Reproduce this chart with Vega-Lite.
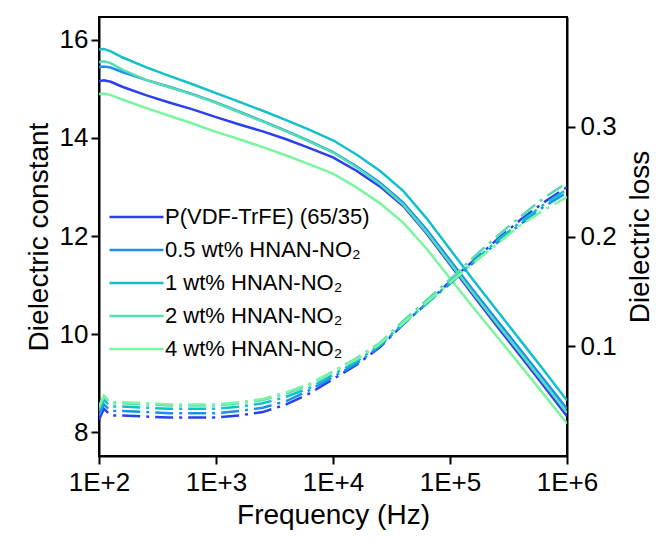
{
  "$schema": "https://vega.github.io/schema/vega-lite/v6.json",
  "width": 468,
  "height": 439,
  "autosize": {"type": "none"},
  "padding": {"left": 99, "top": 17, "right": 89, "bottom": 83},
  "background": "white",
  "config": {
    "font": "Liberation Sans",
    "view": {"stroke": "black", "strokeWidth": 2},
    "axis": {
      "grid": false,
      "domainColor": "black",
      "domainWidth": 2,
      "tickColor": "black",
      "tickWidth": 2,
      "tickSize": 8,
      "labelColor": "black",
      "labelFontSize": 26,
      "titleFontSize": 28,
      "titleFontWeight": "normal",
      "titleColor": "black",
      "labelFont": "Liberation Sans",
      "titleFont": "Liberation Sans"
    },
    "legend": {"labelFont": "Liberation Sans"}
  },
  "datasets": {
    "eps": [
      {"f": 100, "series": "P(VDF-TrFE) (65/35)", "eps": 15.15},
      {"f": 110, "series": "P(VDF-TrFE) (65/35)", "eps": 15.17},
      {"f": 126, "series": "P(VDF-TrFE) (65/35)", "eps": 15.14},
      {"f": 158, "series": "P(VDF-TrFE) (65/35)", "eps": 15.04},
      {"f": 251, "series": "P(VDF-TrFE) (65/35)", "eps": 14.87},
      {"f": 398, "series": "P(VDF-TrFE) (65/35)", "eps": 14.72},
      {"f": 631, "series": "P(VDF-TrFE) (65/35)", "eps": 14.58},
      {"f": 1000, "series": "P(VDF-TrFE) (65/35)", "eps": 14.42},
      {"f": 1585, "series": "P(VDF-TrFE) (65/35)", "eps": 14.27},
      {"f": 2512, "series": "P(VDF-TrFE) (65/35)", "eps": 14.13},
      {"f": 3981, "series": "P(VDF-TrFE) (65/35)", "eps": 13.97},
      {"f": 6310, "series": "P(VDF-TrFE) (65/35)", "eps": 13.79},
      {"f": 10000, "series": "P(VDF-TrFE) (65/35)", "eps": 13.60},
      {"f": 15849, "series": "P(VDF-TrFE) (65/35)", "eps": 13.33},
      {"f": 25119, "series": "P(VDF-TrFE) (65/35)", "eps": 13.01},
      {"f": 39811, "series": "P(VDF-TrFE) (65/35)", "eps": 12.61},
      {"f": 63096, "series": "P(VDF-TrFE) (65/35)", "eps": 12.05},
      {"f": 100000, "series": "P(VDF-TrFE) (65/35)", "eps": 11.42},
      {"f": 158489, "series": "P(VDF-TrFE) (65/35)", "eps": 10.79},
      {"f": 251189, "series": "P(VDF-TrFE) (65/35)", "eps": 10.17},
      {"f": 398107, "series": "P(VDF-TrFE) (65/35)", "eps": 9.56},
      {"f": 630957, "series": "P(VDF-TrFE) (65/35)", "eps": 8.95},
      {"f": 1000000, "series": "P(VDF-TrFE) (65/35)", "eps": 8.33},

      {"f": 100, "series": "0.5 wt% HNAN-NO₂", "eps": 15.44},
      {"f": 110, "series": "0.5 wt% HNAN-NO₂", "eps": 15.45},
      {"f": 126, "series": "0.5 wt% HNAN-NO₂", "eps": 15.43},
      {"f": 158, "series": "0.5 wt% HNAN-NO₂", "eps": 15.34},
      {"f": 251, "series": "0.5 wt% HNAN-NO₂", "eps": 15.18},
      {"f": 398, "series": "0.5 wt% HNAN-NO₂", "eps": 15.04},
      {"f": 631, "series": "0.5 wt% HNAN-NO₂", "eps": 14.89},
      {"f": 1000, "series": "0.5 wt% HNAN-NO₂", "eps": 14.72},
      {"f": 1585, "series": "0.5 wt% HNAN-NO₂", "eps": 14.53},
      {"f": 2512, "series": "0.5 wt% HNAN-NO₂", "eps": 14.34},
      {"f": 3981, "series": "0.5 wt% HNAN-NO₂", "eps": 14.14},
      {"f": 6310, "series": "0.5 wt% HNAN-NO₂", "eps": 13.93},
      {"f": 10000, "series": "0.5 wt% HNAN-NO₂", "eps": 13.71},
      {"f": 15849, "series": "0.5 wt% HNAN-NO₂", "eps": 13.42},
      {"f": 25119, "series": "0.5 wt% HNAN-NO₂", "eps": 13.09},
      {"f": 39811, "series": "0.5 wt% HNAN-NO₂", "eps": 12.68},
      {"f": 63096, "series": "0.5 wt% HNAN-NO₂", "eps": 12.13},
      {"f": 100000, "series": "0.5 wt% HNAN-NO₂", "eps": 11.51},
      {"f": 158489, "series": "0.5 wt% HNAN-NO₂", "eps": 10.89},
      {"f": 251189, "series": "0.5 wt% HNAN-NO₂", "eps": 10.29},
      {"f": 398107, "series": "0.5 wt% HNAN-NO₂", "eps": 9.69},
      {"f": 630957, "series": "0.5 wt% HNAN-NO₂", "eps": 9.09},
      {"f": 1000000, "series": "0.5 wt% HNAN-NO₂", "eps": 8.48},

      {"f": 100, "series": "1 wt% HNAN-NO₂", "eps": 15.80},
      {"f": 110, "series": "1 wt% HNAN-NO₂", "eps": 15.81},
      {"f": 126, "series": "1 wt% HNAN-NO₂", "eps": 15.76},
      {"f": 158, "series": "1 wt% HNAN-NO₂", "eps": 15.64},
      {"f": 251, "series": "1 wt% HNAN-NO₂", "eps": 15.44},
      {"f": 398, "series": "1 wt% HNAN-NO₂", "eps": 15.26},
      {"f": 631, "series": "1 wt% HNAN-NO₂", "eps": 15.09},
      {"f": 1000, "series": "1 wt% HNAN-NO₂", "eps": 14.91},
      {"f": 1585, "series": "1 wt% HNAN-NO₂", "eps": 14.73},
      {"f": 2512, "series": "1 wt% HNAN-NO₂", "eps": 14.55},
      {"f": 3981, "series": "1 wt% HNAN-NO₂", "eps": 14.36},
      {"f": 6310, "series": "1 wt% HNAN-NO₂", "eps": 14.16},
      {"f": 10000, "series": "1 wt% HNAN-NO₂", "eps": 13.95},
      {"f": 15849, "series": "1 wt% HNAN-NO₂", "eps": 13.66},
      {"f": 25119, "series": "1 wt% HNAN-NO₂", "eps": 13.33},
      {"f": 39811, "series": "1 wt% HNAN-NO₂", "eps": 12.92},
      {"f": 63096, "series": "1 wt% HNAN-NO₂", "eps": 12.36},
      {"f": 100000, "series": "1 wt% HNAN-NO₂", "eps": 11.73},
      {"f": 158489, "series": "1 wt% HNAN-NO₂", "eps": 11.10},
      {"f": 251189, "series": "1 wt% HNAN-NO₂", "eps": 10.49},
      {"f": 398107, "series": "1 wt% HNAN-NO₂", "eps": 9.88},
      {"f": 630957, "series": "1 wt% HNAN-NO₂", "eps": 9.27},
      {"f": 1000000, "series": "1 wt% HNAN-NO₂", "eps": 8.65},

      {"f": 100, "series": "2 wt% HNAN-NO₂", "eps": 15.54},
      {"f": 110, "series": "2 wt% HNAN-NO₂", "eps": 15.56},
      {"f": 126, "series": "2 wt% HNAN-NO₂", "eps": 15.52},
      {"f": 158, "series": "2 wt% HNAN-NO₂", "eps": 15.39},
      {"f": 251, "series": "2 wt% HNAN-NO₂", "eps": 15.18},
      {"f": 398, "series": "2 wt% HNAN-NO₂", "eps": 15.03},
      {"f": 631, "series": "2 wt% HNAN-NO₂", "eps": 14.88},
      {"f": 1000, "series": "2 wt% HNAN-NO₂", "eps": 14.71},
      {"f": 1585, "series": "2 wt% HNAN-NO₂", "eps": 14.52},
      {"f": 2512, "series": "2 wt% HNAN-NO₂", "eps": 14.33},
      {"f": 3981, "series": "2 wt% HNAN-NO₂", "eps": 14.13},
      {"f": 6310, "series": "2 wt% HNAN-NO₂", "eps": 13.92},
      {"f": 10000, "series": "2 wt% HNAN-NO₂", "eps": 13.70},
      {"f": 15849, "series": "2 wt% HNAN-NO₂", "eps": 13.40},
      {"f": 25119, "series": "2 wt% HNAN-NO₂", "eps": 13.06},
      {"f": 39811, "series": "2 wt% HNAN-NO₂", "eps": 12.64},
      {"f": 63096, "series": "2 wt% HNAN-NO₂", "eps": 12.08},
      {"f": 100000, "series": "2 wt% HNAN-NO₂", "eps": 11.45},
      {"f": 158489, "series": "2 wt% HNAN-NO₂", "eps": 10.83},
      {"f": 251189, "series": "2 wt% HNAN-NO₂", "eps": 10.22},
      {"f": 398107, "series": "2 wt% HNAN-NO₂", "eps": 9.62},
      {"f": 630957, "series": "2 wt% HNAN-NO₂", "eps": 9.01},
      {"f": 1000000, "series": "2 wt% HNAN-NO₂", "eps": 8.40},

      {"f": 100, "series": "4 wt% HNAN-NO₂", "eps": 14.89},
      {"f": 110, "series": "4 wt% HNAN-NO₂", "eps": 14.90},
      {"f": 126, "series": "4 wt% HNAN-NO₂", "eps": 14.87},
      {"f": 158, "series": "4 wt% HNAN-NO₂", "eps": 14.78},
      {"f": 251, "series": "4 wt% HNAN-NO₂", "eps": 14.61},
      {"f": 398, "series": "4 wt% HNAN-NO₂", "eps": 14.45},
      {"f": 631, "series": "4 wt% HNAN-NO₂", "eps": 14.29},
      {"f": 1000, "series": "4 wt% HNAN-NO₂", "eps": 14.12},
      {"f": 1585, "series": "4 wt% HNAN-NO₂", "eps": 13.97},
      {"f": 2512, "series": "4 wt% HNAN-NO₂", "eps": 13.81},
      {"f": 3981, "series": "4 wt% HNAN-NO₂", "eps": 13.64},
      {"f": 6310, "series": "4 wt% HNAN-NO₂", "eps": 13.46},
      {"f": 10000, "series": "4 wt% HNAN-NO₂", "eps": 13.27},
      {"f": 15849, "series": "4 wt% HNAN-NO₂", "eps": 12.99},
      {"f": 25119, "series": "4 wt% HNAN-NO₂", "eps": 12.67},
      {"f": 39811, "series": "4 wt% HNAN-NO₂", "eps": 12.27},
      {"f": 63096, "series": "4 wt% HNAN-NO₂", "eps": 11.74},
      {"f": 100000, "series": "4 wt% HNAN-NO₂", "eps": 11.14},
      {"f": 158489, "series": "4 wt% HNAN-NO₂", "eps": 10.54},
      {"f": 251189, "series": "4 wt% HNAN-NO₂", "eps": 9.96},
      {"f": 398107, "series": "4 wt% HNAN-NO₂", "eps": 9.37},
      {"f": 630957, "series": "4 wt% HNAN-NO₂", "eps": 8.78},
      {"f": 1000000, "series": "4 wt% HNAN-NO₂", "eps": 8.18}
    ],
    "loss": [
      {"f": 100, "series": "P(VDF-TrFE) (65/35)", "loss": 0.033},
      {"f": 110, "series": "P(VDF-TrFE) (65/35)", "loss": 0.043},
      {"f": 126, "series": "P(VDF-TrFE) (65/35)", "loss": 0.037},
      {"f": 158, "series": "P(VDF-TrFE) (65/35)", "loss": 0.037},
      {"f": 251, "series": "P(VDF-TrFE) (65/35)", "loss": 0.036},
      {"f": 398, "series": "P(VDF-TrFE) (65/35)", "loss": 0.035},
      {"f": 631, "series": "P(VDF-TrFE) (65/35)", "loss": 0.035},
      {"f": 1000, "series": "P(VDF-TrFE) (65/35)", "loss": 0.035},
      {"f": 1585, "series": "P(VDF-TrFE) (65/35)", "loss": 0.037},
      {"f": 2512, "series": "P(VDF-TrFE) (65/35)", "loss": 0.040},
      {"f": 3981, "series": "P(VDF-TrFE) (65/35)", "loss": 0.047},
      {"f": 6310, "series": "P(VDF-TrFE) (65/35)", "loss": 0.057},
      {"f": 10000, "series": "P(VDF-TrFE) (65/35)", "loss": 0.070},
      {"f": 15849, "series": "P(VDF-TrFE) (65/35)", "loss": 0.083},
      {"f": 25119, "series": "P(VDF-TrFE) (65/35)", "loss": 0.099},
      {"f": 39811, "series": "P(VDF-TrFE) (65/35)", "loss": 0.120},
      {"f": 63096, "series": "P(VDF-TrFE) (65/35)", "loss": 0.139},
      {"f": 100000, "series": "P(VDF-TrFE) (65/35)", "loss": 0.159},
      {"f": 158489, "series": "P(VDF-TrFE) (65/35)", "loss": 0.178},
      {"f": 251189, "series": "P(VDF-TrFE) (65/35)", "loss": 0.197},
      {"f": 398107, "series": "P(VDF-TrFE) (65/35)", "loss": 0.215},
      {"f": 630957, "series": "P(VDF-TrFE) (65/35)", "loss": 0.231},
      {"f": 1000000, "series": "P(VDF-TrFE) (65/35)", "loss": 0.245},

      {"f": 100, "series": "0.5 wt% HNAN-NO₂", "loss": 0.037},
      {"f": 110, "series": "0.5 wt% HNAN-NO₂", "loss": 0.047},
      {"f": 126, "series": "0.5 wt% HNAN-NO₂", "loss": 0.041},
      {"f": 158, "series": "0.5 wt% HNAN-NO₂", "loss": 0.041},
      {"f": 251, "series": "0.5 wt% HNAN-NO₂", "loss": 0.040},
      {"f": 398, "series": "0.5 wt% HNAN-NO₂", "loss": 0.039},
      {"f": 631, "series": "0.5 wt% HNAN-NO₂", "loss": 0.039},
      {"f": 1000, "series": "0.5 wt% HNAN-NO₂", "loss": 0.039},
      {"f": 1585, "series": "0.5 wt% HNAN-NO₂", "loss": 0.041},
      {"f": 2512, "series": "0.5 wt% HNAN-NO₂", "loss": 0.044},
      {"f": 3981, "series": "0.5 wt% HNAN-NO₂", "loss": 0.050},
      {"f": 6310, "series": "0.5 wt% HNAN-NO₂", "loss": 0.060},
      {"f": 10000, "series": "0.5 wt% HNAN-NO₂", "loss": 0.072},
      {"f": 15849, "series": "0.5 wt% HNAN-NO₂", "loss": 0.084},
      {"f": 25119, "series": "0.5 wt% HNAN-NO₂", "loss": 0.100},
      {"f": 39811, "series": "0.5 wt% HNAN-NO₂", "loss": 0.120},
      {"f": 63096, "series": "0.5 wt% HNAN-NO₂", "loss": 0.139},
      {"f": 100000, "series": "0.5 wt% HNAN-NO₂", "loss": 0.157},
      {"f": 158489, "series": "0.5 wt% HNAN-NO₂", "loss": 0.176},
      {"f": 251189, "series": "0.5 wt% HNAN-NO₂", "loss": 0.194},
      {"f": 398107, "series": "0.5 wt% HNAN-NO₂", "loss": 0.211},
      {"f": 630957, "series": "0.5 wt% HNAN-NO₂", "loss": 0.227},
      {"f": 1000000, "series": "0.5 wt% HNAN-NO₂", "loss": 0.240},

      {"f": 100, "series": "1 wt% HNAN-NO₂", "loss": 0.041},
      {"f": 110, "series": "1 wt% HNAN-NO₂", "loss": 0.051},
      {"f": 126, "series": "1 wt% HNAN-NO₂", "loss": 0.045},
      {"f": 158, "series": "1 wt% HNAN-NO₂", "loss": 0.045},
      {"f": 251, "series": "1 wt% HNAN-NO₂", "loss": 0.044},
      {"f": 398, "series": "1 wt% HNAN-NO₂", "loss": 0.043},
      {"f": 631, "series": "1 wt% HNAN-NO₂", "loss": 0.043},
      {"f": 1000, "series": "1 wt% HNAN-NO₂", "loss": 0.043},
      {"f": 1585, "series": "1 wt% HNAN-NO₂", "loss": 0.045},
      {"f": 2512, "series": "1 wt% HNAN-NO₂", "loss": 0.048},
      {"f": 3981, "series": "1 wt% HNAN-NO₂", "loss": 0.054},
      {"f": 6310, "series": "1 wt% HNAN-NO₂", "loss": 0.062},
      {"f": 10000, "series": "1 wt% HNAN-NO₂", "loss": 0.074},
      {"f": 15849, "series": "1 wt% HNAN-NO₂", "loss": 0.086},
      {"f": 25119, "series": "1 wt% HNAN-NO₂", "loss": 0.101},
      {"f": 39811, "series": "1 wt% HNAN-NO₂", "loss": 0.121},
      {"f": 63096, "series": "1 wt% HNAN-NO₂", "loss": 0.139},
      {"f": 100000, "series": "1 wt% HNAN-NO₂", "loss": 0.158},
      {"f": 158489, "series": "1 wt% HNAN-NO₂", "loss": 0.177},
      {"f": 251189, "series": "1 wt% HNAN-NO₂", "loss": 0.196},
      {"f": 398107, "series": "1 wt% HNAN-NO₂", "loss": 0.213},
      {"f": 630957, "series": "1 wt% HNAN-NO₂", "loss": 0.229},
      {"f": 1000000, "series": "1 wt% HNAN-NO₂", "loss": 0.243},

      {"f": 100, "series": "2 wt% HNAN-NO₂", "loss": 0.044},
      {"f": 110, "series": "2 wt% HNAN-NO₂", "loss": 0.054},
      {"f": 126, "series": "2 wt% HNAN-NO₂", "loss": 0.048},
      {"f": 158, "series": "2 wt% HNAN-NO₂", "loss": 0.048},
      {"f": 251, "series": "2 wt% HNAN-NO₂", "loss": 0.047},
      {"f": 398, "series": "2 wt% HNAN-NO₂", "loss": 0.046},
      {"f": 631, "series": "2 wt% HNAN-NO₂", "loss": 0.046},
      {"f": 1000, "series": "2 wt% HNAN-NO₂", "loss": 0.046},
      {"f": 1585, "series": "2 wt% HNAN-NO₂", "loss": 0.048},
      {"f": 2512, "series": "2 wt% HNAN-NO₂", "loss": 0.051},
      {"f": 3981, "series": "2 wt% HNAN-NO₂", "loss": 0.057},
      {"f": 6310, "series": "2 wt% HNAN-NO₂", "loss": 0.065},
      {"f": 10000, "series": "2 wt% HNAN-NO₂", "loss": 0.077},
      {"f": 15849, "series": "2 wt% HNAN-NO₂", "loss": 0.089},
      {"f": 25119, "series": "2 wt% HNAN-NO₂", "loss": 0.103},
      {"f": 39811, "series": "2 wt% HNAN-NO₂", "loss": 0.123},
      {"f": 63096, "series": "2 wt% HNAN-NO₂", "loss": 0.142},
      {"f": 100000, "series": "2 wt% HNAN-NO₂", "loss": 0.161},
      {"f": 158489, "series": "2 wt% HNAN-NO₂", "loss": 0.181},
      {"f": 251189, "series": "2 wt% HNAN-NO₂", "loss": 0.200},
      {"f": 398107, "series": "2 wt% HNAN-NO₂", "loss": 0.218},
      {"f": 630957, "series": "2 wt% HNAN-NO₂", "loss": 0.235},
      {"f": 1000000, "series": "2 wt% HNAN-NO₂", "loss": 0.249},

      {"f": 100, "series": "4 wt% HNAN-NO₂", "loss": 0.045},
      {"f": 110, "series": "4 wt% HNAN-NO₂", "loss": 0.055},
      {"f": 126, "series": "4 wt% HNAN-NO₂", "loss": 0.049},
      {"f": 158, "series": "4 wt% HNAN-NO₂", "loss": 0.049},
      {"f": 251, "series": "4 wt% HNAN-NO₂", "loss": 0.048},
      {"f": 398, "series": "4 wt% HNAN-NO₂", "loss": 0.047},
      {"f": 631, "series": "4 wt% HNAN-NO₂", "loss": 0.047},
      {"f": 1000, "series": "4 wt% HNAN-NO₂", "loss": 0.047},
      {"f": 1585, "series": "4 wt% HNAN-NO₂", "loss": 0.049},
      {"f": 2512, "series": "4 wt% HNAN-NO₂", "loss": 0.052},
      {"f": 3981, "series": "4 wt% HNAN-NO₂", "loss": 0.058},
      {"f": 6310, "series": "4 wt% HNAN-NO₂", "loss": 0.066},
      {"f": 10000, "series": "4 wt% HNAN-NO₂", "loss": 0.077},
      {"f": 15849, "series": "4 wt% HNAN-NO₂", "loss": 0.088},
      {"f": 25119, "series": "4 wt% HNAN-NO₂", "loss": 0.102},
      {"f": 39811, "series": "4 wt% HNAN-NO₂", "loss": 0.121},
      {"f": 63096, "series": "4 wt% HNAN-NO₂", "loss": 0.140},
      {"f": 100000, "series": "4 wt% HNAN-NO₂", "loss": 0.158},
      {"f": 158489, "series": "4 wt% HNAN-NO₂", "loss": 0.176},
      {"f": 251189, "series": "4 wt% HNAN-NO₂", "loss": 0.193},
      {"f": 398107, "series": "4 wt% HNAN-NO₂", "loss": 0.210},
      {"f": 630957, "series": "4 wt% HNAN-NO₂", "loss": 0.224},
      {"f": 1000000, "series": "4 wt% HNAN-NO₂", "loss": 0.236}
    ]
  },
  "layer": [
    {
      "data": {"name": "eps"},
      "mark": {"type": "line", "strokeWidth": 2.5, "clip": true},
      "encoding": {
        "x": {
          "field": "f", "type": "quantitative",
          "scale": {"type": "log", "domain": [100, 1000000]},
          "axis": {
            "title": "Frequency (Hz)",
            "values": [100, 1000, 10000, 100000, 1000000],
            "labelExpr": "'1E+' + round(log(datum.value)/LN10)",
            "labelPadding": 5,
            "titlePadding": 6,
            "labelFlush": false,
            "labelOverlap": false
          }
        },
        "y": {
          "field": "eps", "type": "quantitative",
          "scale": {"domain": [7.52, 16.46], "nice": false, "zero": false},
          "axis": {
            "title": "Dielectric constant",
            "values": [8, 10, 12, 14, 16],
            "labelPadding": 3,
            "titlePadding": 6,
            "labelFlush": false,
            "labelOverlap": false
          }
        },
        "color": {
          "field": "series", "type": "nominal",
          "scale": {
            "domain": ["P(VDF-TrFE) (65/35)", "0.5 wt% HNAN-NO₂", "1 wt% HNAN-NO₂", "2 wt% HNAN-NO₂", "4 wt% HNAN-NO₂"],
            "range": ["#2B3FF0", "#1A90F0", "#12C0C8", "#55DDB2", "#7AF5A0"]
          },
          "legend": {
            "title": null,
            "orient": "none",
            "legendX": 9,
            "legendY": 189,
            "symbolType": "stroke",
            "symbolSize": 2916,
            "symbolStrokeWidth": 2.5,
            "clipHeight": 22,
            "labelFontSize": 22,
            "labelColor": "black",
            "labelOffset": 0,
            "rowPadding": 11,
            "padding": 0,
            "labelLimit": 400
          }
        }
      }
    },
    {
      "data": {"name": "loss"},
      "mark": {"type": "line", "strokeWidth": 2.5, "strokeDash": [18, 6, 3, 6], "clip": true},
      "encoding": {
        "x": {"field": "f", "type": "quantitative", "scale": {"type": "log", "domain": [100, 1000000]}},
        "y": {
          "field": "loss", "type": "quantitative",
          "scale": {"domain": [0, 0.4], "nice": false},
          "axis": {
            "orient": "right",
            "title": "Dielectric loss",
            "values": [0.1, 0.2, 0.3],
            "format": ".1f",
            "labelPadding": 5,
            "titlePadding": 10,
            "titleAngle": 270,
            "titleBaseline": "top",
            "labelFlush": false,
            "labelOverlap": false
          }
        },
        "color": {"field": "series", "type": "nominal"}
      }
    }
  ],
  "resolve": {"scale": {"y": "independent"}}
}
